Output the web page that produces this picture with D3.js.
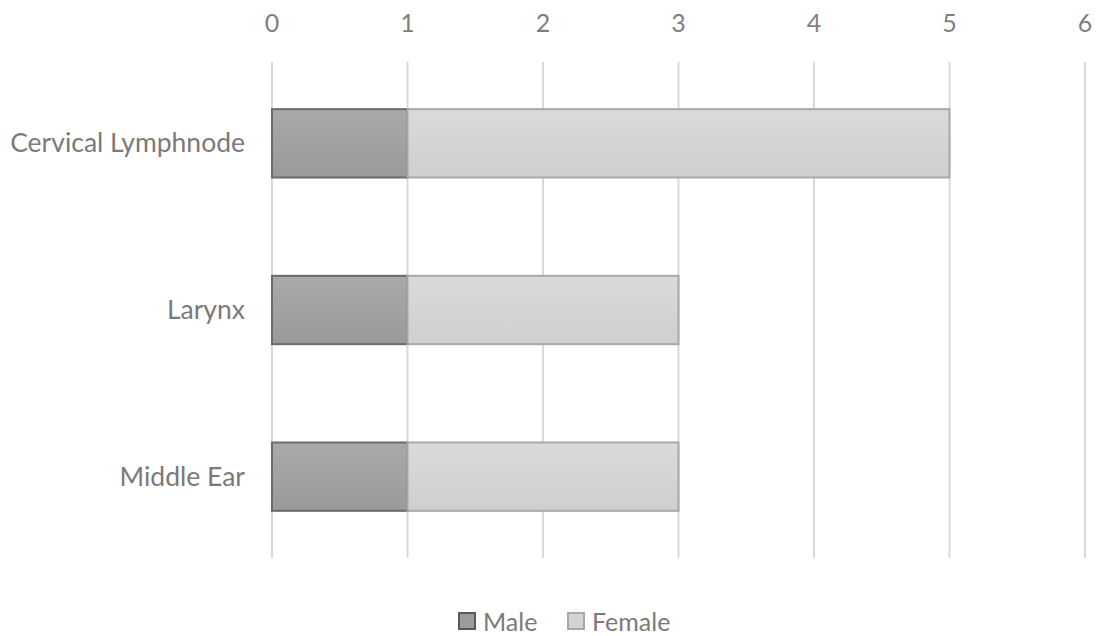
<!DOCTYPE html>
<html><head><meta charset="utf-8">
<script src="https://cdn.jsdelivr.net/npm/d3@7/dist/d3.min.js"></script>
<style>body{margin:0;background:#fff;} text{font-family:Lato,"Open Sans",sans-serif;}</style>
</head><body><svg id="c" width="1096" height="636"></svg>
<script>
const categories = ["Cervical Lymphnode", "Larynx", "Middle Ear"];
const male = [1, 1, 1];
const female = [4, 2, 2];
const ticks = [0, 1, 2, 3, 4, 5, 6];
const seriesNames = ["Male", "Female"];

const svg = d3.select("#c");
const x = d3.scaleLinear().domain([0, 6]).range([272, 1085]);
const y = d3.scaleBand().domain(categories).range([60, 560]).paddingInner(0.59).paddingOuter(0.295);

const defs = svg.append("defs");
const gM = defs.append("linearGradient").attr("id","gm").attr("x1",0).attr("x2",0).attr("y1",0).attr("y2",1);
gM.append("stop").attr("offset","0%").attr("stop-color","#a9a9a9");
gM.append("stop").attr("offset","100%").attr("stop-color","#9a9a9a");
const gF = defs.append("linearGradient").attr("id","gf").attr("x1",0).attr("x2",0).attr("y1",0).attr("y2",1);
gF.append("stop").attr("offset","0%").attr("stop-color","#dadada");
gF.append("stop").attr("offset","100%").attr("stop-color","#cfcfcf");

// gridlines
svg.append("g").selectAll("line").data(ticks).join("line")
  .attr("x1", d => x(d)).attr("x2", d => x(d)).attr("y1", 62).attr("y2", 558)
  .attr("stroke", "#d9d9d9").attr("stroke-width", 2);

// tick labels
svg.append("g").selectAll("text").data(ticks).join("text")
  .attr("x", d => x(d)).attr("y", 32).attr("text-anchor","middle")
  .attr("font-size", 25).attr("fill", "#7f7f7f").text(d => d);

// category labels
svg.append("g").selectAll("text").data(categories).join("text")
  .attr("x", 245).attr("y", d => y(d) + y.bandwidth()/2 + 9).attr("text-anchor","end")
  .attr("font-size", 26.5).attr("fill", "#7a7a7a").text(d => d);

const data = categories.map((c,i) => ({c, m: male[i], f: female[i]}));
// male bars
svg.append("g").selectAll("rect").data(data).join("rect")
  .attr("x", x(0)).attr("y", d => y(d.c)).attr("width", d => x(d.m) - x(0)).attr("height", y.bandwidth())
  .attr("fill", "url(#gm)").attr("stroke", "#6b6b6b").attr("stroke-width", 2);
// female bars
svg.append("g").selectAll("rect").data(data).join("rect")
  .attr("x", d => x(d.m)).attr("y", d => y(d.c)).attr("width", d => x(d.m + d.f) - x(d.m)).attr("height", y.bandwidth())
  .attr("fill", "url(#gf)").attr("stroke", "#a8a8a8").attr("stroke-width", 2);

// legend
const leg = [{n: seriesNames[0], fill: "#9c9c9c", stroke: "#5a5a5a", x: 459}, {n: seriesNames[1], fill: "#d4d4d4", stroke: "#a8a8a8", x: 568}];
const lg = svg.append("g");
lg.selectAll("rect").data(leg).join("rect")
  .attr("x", d => d.x).attr("y", 613).attr("width", 16).attr("height", 16)
  .attr("fill", d => d.fill).attr("stroke", d => d.stroke).attr("stroke-width", 2);
lg.selectAll("text").data(leg).join("text")
  .attr("x", d => d.x + 24).attr("y", 631).attr("font-size", 25).attr("fill", "#7a7a7a").text(d => d.n);
</script></body></html>
